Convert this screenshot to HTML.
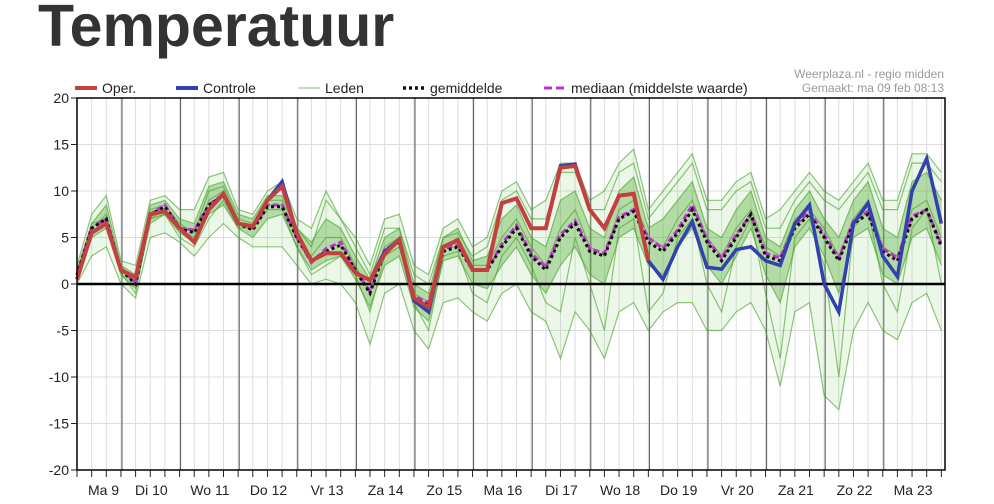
<!DOCTYPE html>
<html><head><meta charset="utf-8"><style>
body{margin:0;background:#fff;width:994px;height:504px;overflow:hidden;font-family:"Liberation Sans",sans-serif}
#title{position:absolute;left:38px;top:-8px;font-size:59px;font-weight:bold;color:#333}
svg{position:absolute;left:0;top:0}
</style></head><body>
<div id="title">Temperatuur</div>
<svg id="chart" width="994" height="504"></svg>
<script>
const dayLabels=["Ma 9","Di 10","Wo 11","Do 12","Vr 13","Za 14","Zo 15","Ma 16","Di 17","Wo 18","Do 19","Vr 20","Za 21","Zo 22","Ma 23"];
const yTicks=[20,15,10,5,0,-5,-10,-15,-20];
const oper=[0.5,5.5,6.5,1.5,0.7,7.5,7.8,6,4.5,8,9.7,6.5,6.2,9,10.5,5.5,2.5,3.3,3.3,1.2,0.4,3.2,4.8,-1.5,-2.5,4,4.7,1.5,1.5,8.7,9.2,6,6,12.5,12.7,8,6,9.5,9.7,2.5];
const controle=[0.5,5.5,6.5,1.5,0.7,7.5,7.8,6,4.5,8,9.7,6.5,6.2,9,11,5.5,2.5,3.3,3.3,1.2,0.4,3.5,4.8,-1.8,-3,4,4.7,1.5,1.5,8.7,9.2,6,6,12.7,12.9,8,6,9.5,9.7,2.5,0.5,4,6.7,1.8,1.6,3.7,4,2.5,2,6.5,8.5,0,-3,6.5,8.7,3,0.8,10,13.5,6.5];
const gemiddelde=[1,6,7,1.5,0,7.5,8.3,6,5.5,8.5,9.5,6.5,5.8,8.3,8.3,5,2.5,3.5,4.2,1.5,-1,3.5,4.5,-1.5,-2.3,3.5,4,1.5,1.5,4,6,3,1.5,5,6.5,3.5,3,7,7.8,4.5,3.5,5.5,8,4.5,2.5,5,7.5,3,2.5,6,7.5,5,2.5,6.5,7.5,3.5,2.5,7,8,4];
const mediaan=[1,6,7,1.5,0.2,7.5,8.5,6,5.8,8.5,9.7,6.5,6,8.5,8.5,5,2.3,3.8,4.5,1.5,-0.8,3.7,4.5,-1.3,-2,3.8,4.2,1.5,1.5,4.3,6.3,3.3,1.8,5.3,6.8,3.8,3.3,7.2,8,5,3.8,5.8,8.5,4.8,2.8,5.3,7.5,3.3,2.8,6.3,7.8,5.3,2.8,6.8,7.8,3.8,2.8,7.3,8,4.3];
const ledenMax=[2,7.5,9.5,2.5,2,9,9.5,8,8,11.5,12,8,7.5,10,11,7,6,10,7,5,2,7,7.5,2,1,6,7,4,5,10,11,8,9,13,13,9,10,13,14.5,8,10,12,14,9,9,11,12,7,8,10,12,10,9,11,13,9,9,14,14,12];
const ledenMin=[0,3,4,0,-1.5,5,5.5,4.5,3,5,6.5,5,4,4,4,2,0,0.5,0,-2,-6.5,-1,0,-5,-7,-2,-1.5,-3,-4,-1,0,-3,-4,-8,-3,-5,-8,-3,-2,-5,-3,-2,-2,-5,-5,-3,-2,-5,-11,-3,-2,-12,-13.5,-5,-2,-5,-6,-2,-1,-5];
const lid1=[1.5,6.5,8.5,2,1,8.5,9,7,6.5,10.5,11,7.5,7,9.5,9.5,6,4.5,7,6,3,0.5,5,6,0,-1,5,6,2.5,3,7,8.5,5,4,9,10,6,5,10,11.5,6,7,9,11,6,5,8,10,5,4,8,10,7,5,9,11,6,5,11,12,9];
const lid2=[0.5,5,6,1,-0.5,6.5,7.5,5.5,4.5,7.5,8.5,6,5,7,7.5,4,1.5,2.5,3,0.5,-2.5,2,3,-2.5,-4,2.5,3,0,-0.5,2,4,1,-1,2,4,1,0,5,6,2,1,4,6,2,0,3,6,1,-2,4,6,3,-1,5,6,1,0,5,6,2];
const lid3=[1,6,7.5,1.5,0.5,7,8,6,5,9,10,6.5,6,8.5,8.5,5,3,5,5,2,-1,4,5,-1,-2,4,5,2,2,5,7,4,2,6,8,4,3,8,9,5,4,7,9,5,3,6,8,4,3,7,8,6,3,7,9,4,3,8,9,5];
const lid4=[0.8,5.5,6.5,1.2,-1,7,7.5,5,4,7,9,6,6,8,8,4,1,2,3,1,-3,3,4,-2,-5,3,3.5,-1,-2,3,5,2,-2,-3,5,0,-5,6,7,-3,-1,5,7,0,-3,4,7,-1,-8,5,7,2,-10,6,8,0,-3,6,8,0];
const lid5=[1,6.5,7,2,0,8,8.5,6.5,5.5,10,10.5,7,6.5,9,9,6,4,9,7,4,1,6,6,1,0,5,5.5,3,4,9,10,7,7,12,12,8,8,12,13,7,9,11,13,8,8,10,11,6,6,9,11,9,8,10,12,8,8,13,13,11];
const leden=[ledenMax,ledenMin,lid1,lid2,lid3,lid4,lid5];

const NS="http://www.w3.org/2000/svg",svg=document.getElementById('chart');
const L=77,R=945,T=98,B=470,STEP=14.65,DAY=58.6,FIRST=122;
const x=i=>L+i*STEP;
const y=v=>284-v*(B-T)/40;
function mk(t,a,p){const e=document.createElementNS(NS,t);for(const k in a)e.setAttribute(k,a[k]);(p||svg).appendChild(e);return e;}
for(let i=0;x(i)<R;i++){const g=mk('line',{x1:x(i),x2:x(i),y1:T,y2:B,stroke:'#ddd','stroke-width':1});

const tk=mk('line',{x1:x(i),x2:x(i),y1:B,y2:B+7,stroke:'#222','stroke-width':1});
}
yTicks.forEach(v=>{const g=mk('line',{x1:L,x2:R,y1:y(v),y2:y(v),stroke:'#ddd'});

const tk=mk('line',{x1:L-6,x2:L,y1:y(v),y2:y(v),stroke:'#222'});

const t=mk('text',{x:L-8,y:y(v)+5,'text-anchor':'end','font-size':14,fill:'#222'});t.textContent=v;
});
dayLabels.forEach((d,k)=>{if(k>0){const l=mk('line',{x1:FIRST+(k-1)*DAY,x2:FIRST+(k-1)*DAY,y1:T,y2:B,stroke:'#555','stroke-width':1});
}
const c=k==0?(L+FIRST)/2+4:FIRST+(k-1)*DAY+DAY/2;
const t=mk('text',{x:c,y:495,'text-anchor':'middle','font-size':14,fill:'#222'});t.textContent=d;
});
const pts=a=>a.map((v,i)=>x(i)+','+y(v)).join(' ');
const rev=a=>a.map((v,i)=>[i,v]).reverse().map(p=>x(p[0])+','+y(p[1])).join(' ');
const band=mk('polygon',{points:pts(ledenMax)+' '+rev(ledenMin),fill:'#7cc860','fill-opacity':0.15});

const core=mk('polygon',{points:pts(lid1)+' '+rev(lid2),fill:'#4aa52a','fill-opacity':0.35});

leden.forEach(m=>{const p=mk('polyline',{points:pts(m),fill:'none',stroke:'#45a028','stroke-opacity':0.6,'stroke-width':1.2});
});
const zl=mk('line',{x1:L,x2:R,y1:y(0),y2:y(0),stroke:'#000','stroke-width':2.5});

const md=mk('polyline',{points:pts(mediaan),fill:'none',stroke:'#c030d0','stroke-width':3,'stroke-dasharray':'6 3'});

const gm=mk('polyline',{points:pts(gemiddelde),fill:'none',stroke:'#111','stroke-width':3,'stroke-dasharray':'3 3'});

const cl=mk('polyline',{points:pts(controle),fill:'none',stroke:'#3340b0','stroke-width':3.5});

const op=mk('polyline',{points:pts(oper),fill:'none',stroke:'#c44040','stroke-width':4});

const fr=mk('rect',{x:L,y:T,width:R-L,height:B-T,fill:'none',stroke:'#000','stroke-width':1.5});

const leg=[['Oper.',75,'#c44040',4,''],['Controle',176,'#3340b0',4,''],['Leden',298,'#7cc46a',1,''],['gemiddelde',403,'#111',3.5,'3 3'],['mediaan (middelste waarde)',544,'#c030d0',3,'8 4']];
leg.forEach(e=>{const l=mk('line',{x1:e[1],x2:e[1]+22,y1:88,y2:88,stroke:e[2],'stroke-width':e[3],'stroke-dasharray':e[4]});

const t=mk('text',{x:e[1]+27,y:93,'font-size':14,fill:'#222'});t.textContent=e[0];
});
[['Weerplaza.nl - regio midden',78],['Gemaakt: ma 09 feb 08:13',92]].forEach(s=>{const t=mk('text',{x:944,y:s[1],'text-anchor':'end','font-size':12,fill:'#999'});t.textContent=s[0];
});
</script>
</body></html>
